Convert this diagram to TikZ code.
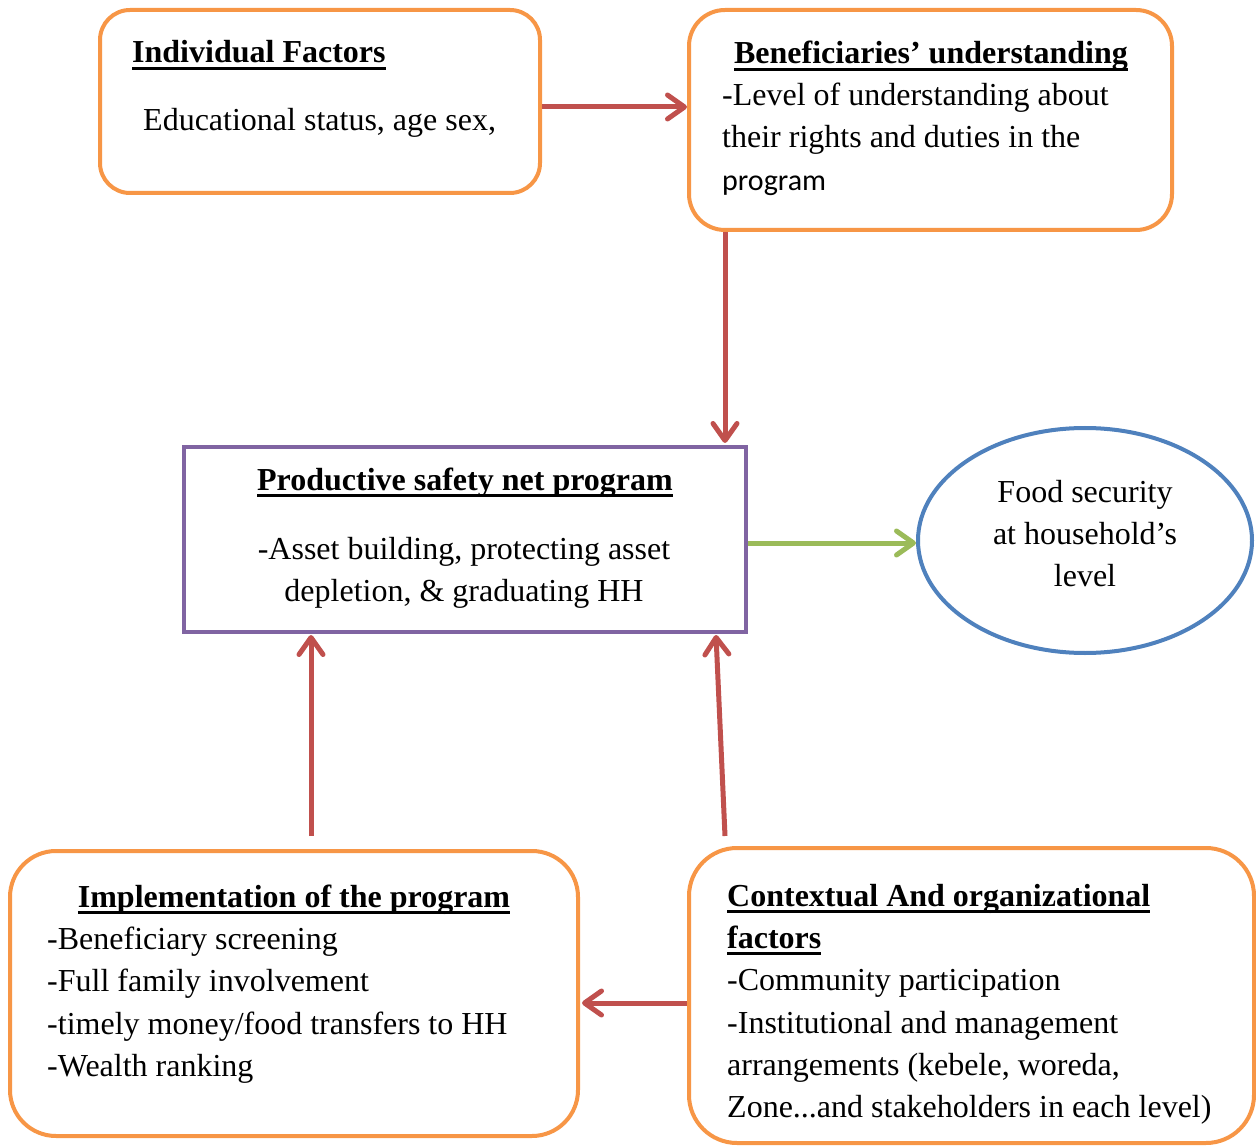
\documentclass[tikz,border=0pt]{standalone}
\usepackage{fontspec}
\setmainfont{Liberation Serif}
\newfontfamily\carlitofont{Carlito}
\usetikzlibrary{arrows.meta,shapes.geometric}
\definecolor{boxorange}{HTML}{F79646}
\definecolor{arrred}{HTML}{C0504D}
\definecolor{boxpurple}{HTML}{8064A2}
\definecolor{ellblue}{HTML}{4F81BD}
\definecolor{arrgreen}{HTML}{9BBB59}
\newcommand\ttul[1]{\setbox0=\hbox{\bfseries #1}\rlap{\rule[-7pt]{\wd0}{3.2pt}}\box0}
\tikzset{
  rbox/.style={draw=boxorange, line width=4pt, fill=white, inner sep=0pt},
  lt/.style={anchor=base west, inner sep=0pt, font=\fontsize{32}{42}\selectfont},
  ct/.style={anchor=base, inner sep=0pt, font=\fontsize{32}{42}\selectfont},
  arr/.style={draw=arrred, line width=5pt, -{Straight Barb[length=17pt,width=24pt,round]}},
  garr/.style={draw=arrgreen, line width=5pt, -{Straight Barb[length=17pt,width=24pt,round]}}
}
\begin{document}
\begin{tikzpicture}[x=1pt,y=-1pt]
\useasboundingbox (0,0) rectangle (1256,1147);
% boxes
\node[rbox, minimum width=440pt, minimum height=183pt, rounded corners=30pt] (ind) at (320,101.5) {};
\node[rbox, minimum width=483pt, minimum height=220pt, rounded corners=36pt] (ben) at (930.5,120) {};
\node[draw=boxpurple, line width=4pt, fill=white, minimum width=562pt, minimum height=185pt, inner sep=0pt] (psnp) at (465,539.5) {};
\node[draw=ellblue, line width=4pt, fill=white, ellipse, minimum width=334pt, minimum height=225pt, inner sep=0pt] (fs) at (1085,540.5) {};
\node[rbox, minimum width=568pt, minimum height=285pt, rounded corners=46pt] (impl) at (294,993.5) {};
\node[rbox, minimum width=565pt, minimum height=295pt, rounded corners=48pt] (ctx) at (971.5,995.5) {};
% texts
\node[lt] (indt) at (132,63) {\ttul{Individual Factors}};
\node[lt] (ind1) at (143,131) {Educational status, age sex,};
\node[ct] (bent) at (931,64) {\ttul{Beneficiaries’ understanding}};
\node[lt] (ben1) at (722,106) {-Level of understanding about};
\node[lt] (ben2) at (722,148) {their rights and duties in the};
\node[lt] (ben3) at (722,191) {\carlitofont\fontsize{30}{40}\selectfont program};
\node[ct] (psnpt) at (465,490) {\ttul{Productive safety net program}};
\node[ct] (psnp1) at (464,559) {-Asset building, protecting asset};
\node[ct] (psnp2) at (464,601) {depletion, \& graduating HH};
\node[ct] (fs1) at (1085,502) {Food security};
\node[ct] (fs2) at (1085,544) {at household’s};
\node[ct] (fs3) at (1085,586) {level};
\node[ct] (implt) at (294,907) {\ttul{Implementation of the program}};
\node[lt] (impl1) at (47,949) {-Beneficiary screening};
\node[lt] (impl2) at (47,991) {-Full family involvement};
\node[lt] (impl3) at (47,1034) {-timely money/food transfers to HH};
\node[lt] (impl4) at (47,1076) {-Wealth ranking};
\node[lt] (ctxt1) at (727,906) {\ttul{Contextual And organizational}};
\node[lt] (ctxt2) at (727,948) {\ttul{factors}};
\node[lt] (ctx1) at (727,990) {-Community participation};
\node[lt] (ctx2) at (727,1033) {-Institutional and management};
\node[lt] (ctx3) at (727,1075) {arrangements (kebele, woreda,};
\node[lt] (ctx4) at (727,1117) {Zone...and stakeholders in each level)};
% connectors
\draw[arr] ([yshift=-5.5pt]ind.east) -- ([yshift=13pt]ben.west);
\draw[arr] ([xshift=38pt]ben.south west) -- ([xshift=-23pt,yshift=2pt]psnp.north east);
\draw[garr] ([yshift=-3.5pt]psnp.east) -- ([yshift=-2.5pt]fs.west);
\draw[arr] ([xshift=303pt,yshift=13pt]impl.north west) -- ([xshift=129pt,yshift=-1pt]psnp.south west);
\draw[arr] ([xshift=38pt,yshift=10pt]ctx.north west) -- ([xshift=-32pt,yshift=-1pt]psnp.south east);
\draw[arr] ([yshift=-7.5pt]ctx.west) -- ([yshift=-9.5pt,xshift=2pt]impl.east);
\end{tikzpicture}
\end{document}
